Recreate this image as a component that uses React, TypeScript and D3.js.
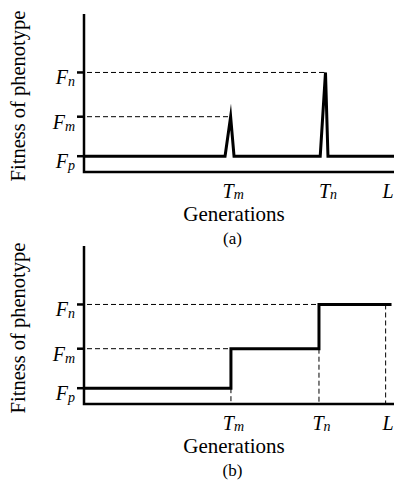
import * as d3 from "d3";

// fitness levels (p, m, n) on a 0..10 scale
const levelKeys = ["p", "m", "n"];
const levelValues = [1, 3.5, 6.3];

// generation marks on a 0..100 scale
const markKeys = ["m", "n", ""];
const markGensA = [47.3, 77.9, 97.3];
const markGensB = [47.4, 75.8, 97.3];

// panel (a): short spikes of fitness
const spikeGens = [0, 45.5, 47.3, 48.4, 76.2, 77.9, 78.7, 100];
const spikeFits = [1, 1, 3.5, 1, 1, 6.3, 1, 1];

// panel (b): fitness steps up and stays
const stepGens = [0, 47.4, 47.4, 75.8, 75.8, 99.2];
const stepFits = [1, 1, 3.5, 3.5, 6.3, 6.3];

const W = 394;
const H = 483;
const axisLeft = 84;
const panelH = 158;
const serif = { fontFamily: "Liberation Serif" };

type PanelProps = {
  top: number;
  gens: number[];
  fits: number[];
  marks: number[];
  tag: string;
  step: boolean;
};

function Panel({ top, gens, fits, marks, tag, step }: PanelProps) {
  const bottom = top + panelH;
  const x = d3.scaleLinear().domain([0, 100]).range([axisLeft, W]);
  const y = d3.scaleLinear().domain([0, 10]).range([bottom, top]);

  const line = d3
    .line<number>()
    .x((_, i) => x(gens[i]))
    .y((d) => y(d));

  const [fp, fm, fn] = levelValues;
  const [gm, gn, gl] = marks;

  // dashed guides
  const guides: [number, number, number, number][] = [
    [x(0), y(fm), x(gm), y(fm)],
    [x(0), y(fn), x(gn), y(fn)],
  ];
  if (step) {
    guides.push([x(gm), y(fp), x(gm), y(0)]);
    guides.push([x(gn), y(fm), x(gn), y(0)]);
    guides.push([x(gl), y(fn), x(gl), y(0)]);
  }

  return (
    <g style={serif}>
      {guides.map((d, i) => (
        <line
          key={i}
          x1={d[0]}
          y1={d[1]}
          x2={d[2]}
          y2={d[3]}
          stroke="#000"
          strokeWidth={1}
          strokeDasharray="5,3"
          strokeDashoffset={i > 1 ? 0 : -3}
        />
      ))}

      <path
        d={line(fits) ?? ""}
        fill="none"
        stroke="#000"
        strokeWidth={3}
        strokeLinejoin="miter"
        strokeMiterlimit={20}
      />

      {/* axes */}
      <path
        d={`M${x(0)},${y(10)}V${y(0)}H${x(100)}`}
        fill="none"
        stroke="#000"
        strokeWidth={2.5}
      />
      {levelValues.map((v, i) => (
        <g key={levelKeys[i]}>
          <line x1={x(0) - 7} x2={x(0)} y1={y(v)} y2={y(v)} stroke="#000" strokeWidth={2.5} />
          <text x={x(0) - 9} y={y(v) + 12} textAnchor="end" fontStyle="italic" fontSize={20}>
            F<tspan fontSize={14} dy={2}>{levelKeys[i]}</tspan>
          </text>
        </g>
      ))}

      {marks.map((g, i) => (
        <text
          key={i}
          x={x(g) + 2.5}
          y={bottom + 26}
          textAnchor="middle"
          fontStyle="italic"
          fontSize={20}
        >
          {markKeys[i] ? "T" : "L"}
          {markKeys[i] && (
            <tspan fontSize={14} dy={1}>
              {markKeys[i]}
            </tspan>
          )}
        </text>
      ))}

      <text x={234} y={bottom + 49} textAnchor="middle" fontSize={21}>
        Generations
      </text>
      <text x={232.5} y={bottom + 72} textAnchor="middle" fontSize={17}>
        {tag}
      </text>
      <text transform={`translate(25,${top + 82}) rotate(-90)`} textAnchor="middle" fontSize={20.5}>
        Fitness of phenotype
      </text>
    </g>
  );
}

export default function App() {
  return (
    <div style={{ position: "absolute", left: 0, top: 0 }}>
      <svg width={W} height={H} viewBox={`0 0 ${W} ${H}`} style={{ display: "block", background: "#fff" }}>
        <Panel top={14} gens={spikeGens} fits={spikeFits} marks={markGensA} tag="(a)" step={false} />
        <Panel top={246} gens={stepGens} fits={stepFits} marks={markGensB} tag="(b)" step={true} />
      </svg>
    </div>
  );
}
